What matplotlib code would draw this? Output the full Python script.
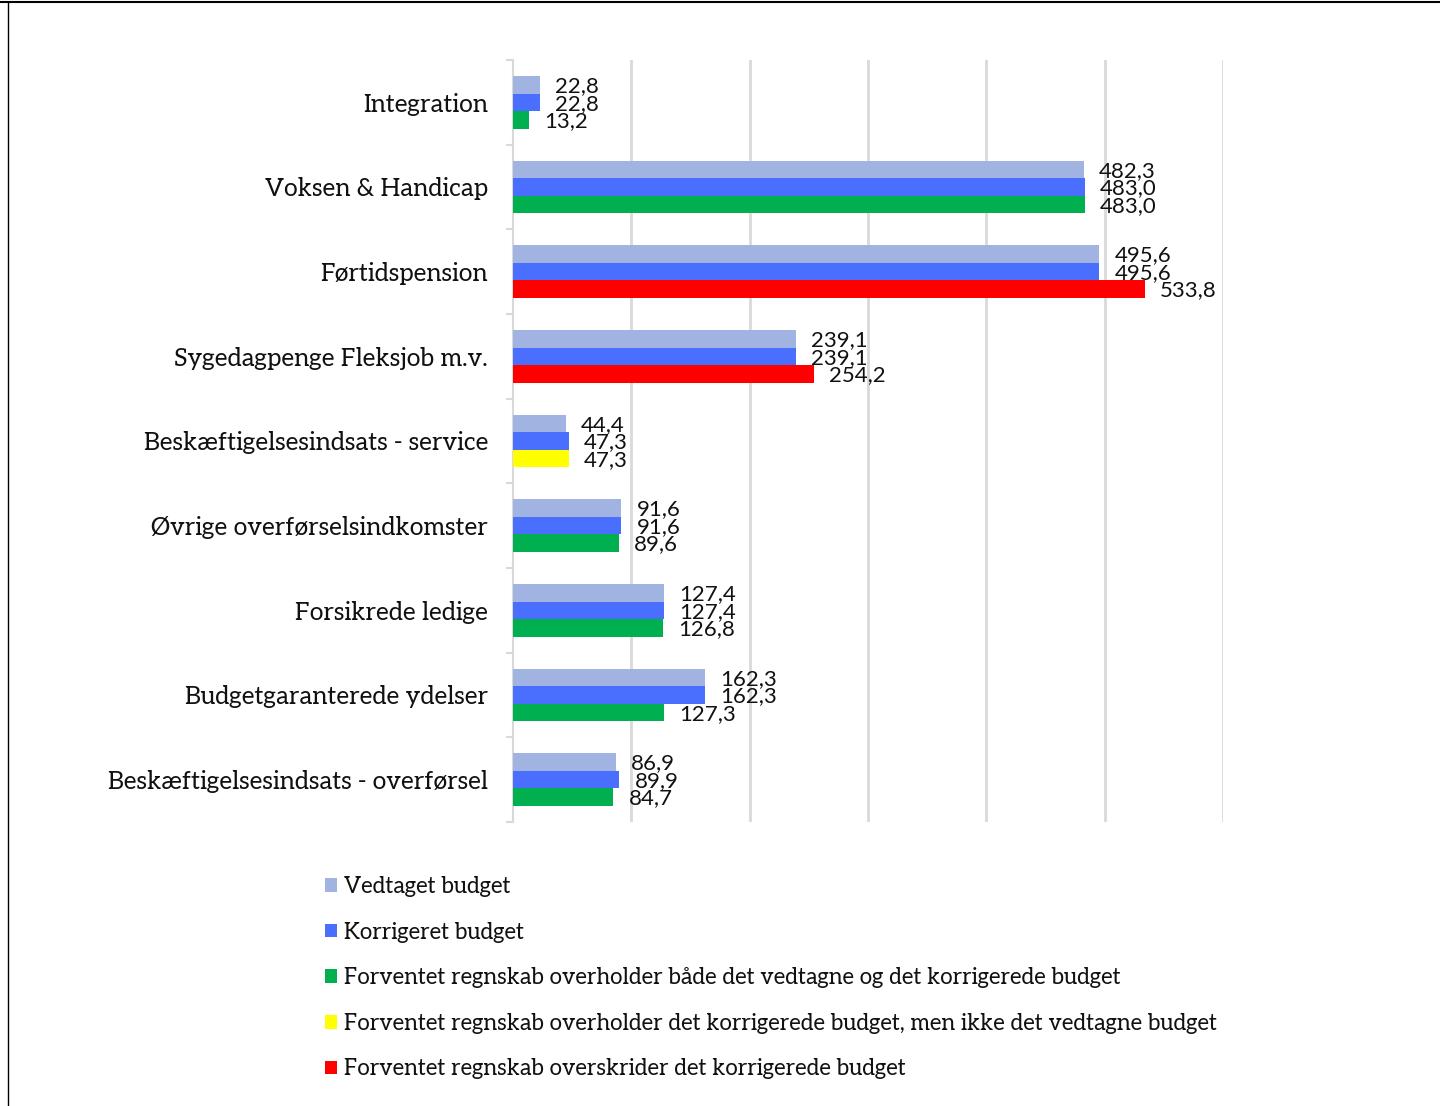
import matplotlib
matplotlib.use("Agg")
import matplotlib.pyplot as plt
from matplotlib.patches import Patch
from matplotlib.lines import Line2D

categories = ["Integration", "Voksen & Handicap", "Førtidspension",
              "Sygedagpenge Fleksjob m.v.", "Beskæftigelsesindsats - service",
              "Øvrige overførselsindkomster", "Forsikrede ledige",
              "Budgetgaranterede ydelser", "Beskæftigelsesindsats - overførsel"]
vedtaget = [22.8, 482.3, 495.6, 239.1, 44.4, 91.6, 127.4, 162.3, 86.9]
korrigeret = [22.8, 483.0, 495.6, 239.1, 47.3, 91.6, 127.4, 162.3, 89.9]
forventet = [13.2, 483.0, 533.8, 254.2, 47.3, 89.6, 126.8, 127.3, 84.7]
status = ["green", "green", "red", "red", "yellow", "green", "green", "green", "green"]
legend_labels = ["Vedtaget budget", "Korrigeret budget",
                 "Forventet regnskab overholder både det vedtagne og det korrigerede budget",
                 "Forventet regnskab overholder det korrigerede budget, men ikke det vedtagne budget",
                 "Forventet regnskab overskrider det korrigerede budget"]

C_LIGHT = "#A1B3E0"
C_BLUE = "#4A6FFF"
C_STATUS = {"green": "#00B050", "yellow": "#FFFF00", "red": "#FF0000"}

SERIF = ["Aleo", "DejaVu Serif"]
SANS = ["Lato", "DejaVu Sans"]

fig = plt.figure(figsize=(14.4, 11.06), dpi=100)
ax = fig.add_axes([513/1440, 1-822/1106, (1223-513)/1440, (822-60)/1106])

h = 0.207
ys = list(range(len(categories)))
ax.barh([y - h for y in ys], vedtaget, height=h, color=C_LIGHT, zorder=3)
ax.barh(ys, korrigeret, height=h, color=C_BLUE, zorder=3)
ax.barh([y + h for y in ys], forventet, height=h,
        color=[C_STATUS[s] for s in status], zorder=3)

def fmt(v):
    return f"{v:.1f}".replace(".", ",")

for i in ys:
    for off, vals in ((-h, vedtaget), (0, korrigeret), (h, forventet)):
        ax.annotate(fmt(vals[i]), (vals[i], i + off), xytext=(11, -1),
                    textcoords="offset points", va="center", ha="left",
                    fontsize=16, family=SANS, color="#111111", zorder=4)

ax.set_xlim(0, 600)
ax.set_ylim(len(categories) - 0.5, -0.5)
ax.set_xticks([100, 200, 300, 400, 500, 600])
ax.tick_params(axis="x", length=0, labelbottom=False)
ax.grid(axis="x", color="#D9D9D9", linewidth=2, zorder=0)
ax.set_yticks(ys)
ax.set_yticklabels(categories, fontsize=17.8, family=SERIF, color="#111111")
ax.tick_params(axis="y", which="major", length=0, pad=18)
ax.set_yticks([y - 0.5 for y in range(len(categories) + 1)], minor=True)
ax.tick_params(axis="y", which="minor", length=5, color="#D9D9D9", width=1.5)
for s in ("top", "right", "bottom"):
    ax.spines[s].set_visible(False)
ax.spines["left"].set_color("#D9D9D9")
ax.spines["left"].set_linewidth(1.5)

handles = [Patch(facecolor=c) for c in
           (C_LIGHT, C_BLUE, C_STATUS["green"], C_STATUS["yellow"], C_STATUS["red"])]
leg = fig.legend(handles, legend_labels, loc="upper left",
                 bbox_to_anchor=(316/1440, 1-867/1106), frameon=False,
                 prop={"family": SERIF, "size": 16.1}, handlelength=0.55,
                 handleheight=0.55, handletextpad=0.3, labelspacing=1.1,
                 borderaxespad=0)
for t in leg.get_texts():
    t.set_color("#111111")

fig.add_artist(Line2D([0, 1], [1-2/1106, 1-2/1106], color="black", lw=1.5))
fig.add_artist(Line2D([8/1440, 8/1440], [0, 1-2/1106], color="black", lw=1))

fig.savefig("out.png", dpi=100)
